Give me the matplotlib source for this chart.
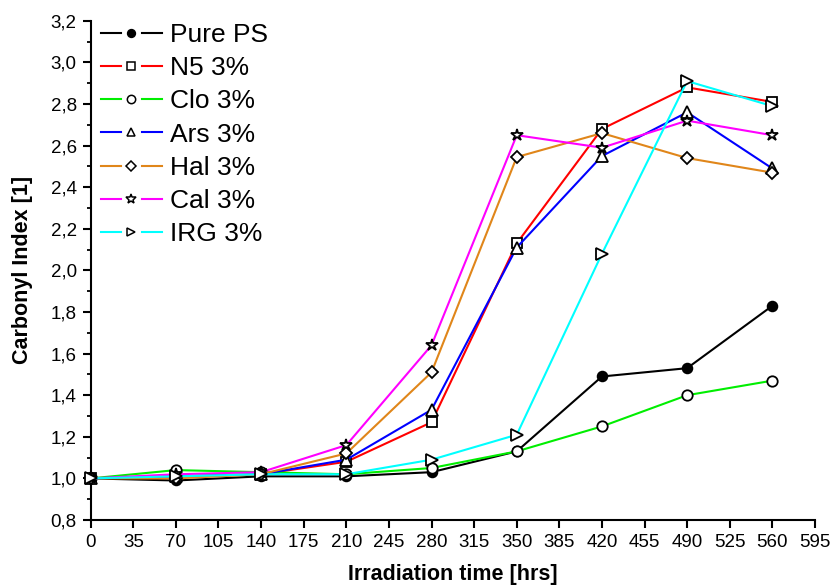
import matplotlib
matplotlib.use("Agg")
import matplotlib.pyplot as plt
from matplotlib.lines import Line2D
from matplotlib.legend_handler import HandlerBase
from matplotlib.ticker import MultipleLocator, FuncFormatter

plt.rcParams['font.family'] = ['Liberation Sans', 'DejaVu Sans']

# Irradiation time (hours)
hours = [0, 70, 140, 210, 280, 350, 420, 490, 560]

# Carbonyl index per sample
pure_ps = [1.00, 0.99, 1.01, 1.01, 1.03, 1.13, 1.49, 1.53, 1.83]
n5 = [1.00, 1.01, 1.02, 1.08, 1.27, 2.13, 2.68, 2.88, 2.81]
clo = [1.00, 1.04, 1.03, 1.02, 1.05, 1.13, 1.25, 1.40, 1.47]
ars = [1.00, 1.01, 1.02, 1.09, 1.33, 2.11, 2.55, 2.76, 2.49]
hal = [1.00, 1.00, 1.02, 1.12, 1.51, 2.545, 2.66, 2.54, 2.47]
cal = [1.00, 1.02, 1.03, 1.16, 1.64, 2.65, 2.59, 2.72, 2.65]
irg = [1.00, 1.01, 1.02, 1.02, 1.09, 1.21, 2.08, 2.91, 2.79]

labels = ["Pure PS", "N5 3%", "Clo 3%", "Ars 3%", "Hal 3%", "Cal 3%", "IRG 3%"]
series = [pure_ps, n5, clo, ars, hal, cal, irg]
colors = ["#000000", "#ff0000", "#00ee00", "#0000ff", "#e0861a", "#ff00ff", "#00ffff"]
markers = ["o", "s", "o", "^", "D", "*", ">"]

fig = plt.figure(figsize=(8.35, 5.86), dpi=100)
ax = fig.add_axes([0.1086, 0.1126, 0.976 - 0.1086, 0.9645 - 0.1126])

handles = []
for vals, lab, col, mk in zip(series, labels, colors, markers):
    filled = lab == "Pure PS"
    ms = {"o": 7.5, "s": 6.5, "^": 8, "D": 6.5, "*": 9, ">": 8}[mk]
    if filled:
        ms = 7
    h, = ax.plot(hours, vals, color=col, lw=1.5, marker=mk, markersize=ms,
                 markerfacecolor="black" if filled else "white",
                 markeredgecolor="black", markeredgewidth=1.3,
                 label=lab, clip_on=False, zorder=3)
    handles.append(h)


class GapLineHandler(HandlerBase):
    """Legend key drawn as line - marker - line with gaps around the marker."""

    def create_artists(self, legend, orig_handle, xdescent, ydescent,
                       width, height, fontsize, trans):
        y = height / 2.0 - ydescent
        x0 = -xdescent
        mid = x0 + width / 2.0
        gap = width * 0.17
        col = orig_handle.get_color()
        lw = orig_handle.get_linewidth()
        a = Line2D([x0, mid - gap], [y, y], color=col, lw=lw, transform=trans)
        b = Line2D([mid + gap, x0 + width], [y, y], color=col, lw=lw, transform=trans)
        ms = orig_handle.get_markersize() * 0.8
        m = Line2D([mid], [y], linestyle="none", marker=orig_handle.get_marker(),
                   markersize=ms, markerfacecolor=orig_handle.get_markerfacecolor(),
                   markeredgecolor="black", markeredgewidth=1.1, transform=trans)
        return [a, b, m]


ax.legend(handles=handles, handler_map={Line2D: GapLineHandler()},
          loc="upper left", bbox_to_anchor=(0.0142, 0.996), frameon=False,
          fontsize=19, handlelength=2.3, handletextpad=0.3,
          labelspacing=0.35, borderaxespad=0.0, borderpad=0.0)

ax.set_xlim(0, 595)
ax.set_ylim(0.8, 3.2)
ax.xaxis.set_major_locator(MultipleLocator(35))
ax.yaxis.set_major_locator(MultipleLocator(0.2))
ax.yaxis.set_minor_locator(MultipleLocator(0.1))
ax.yaxis.set_major_formatter(FuncFormatter(lambda v, p: f"{v:.1f}".replace(".", ",")))

for s in ("top", "right"):
    ax.spines[s].set_visible(False)
for s in ("left", "bottom"):
    ax.spines[s].set_linewidth(1.5)

ax.tick_params(axis="both", which="major", direction="out", length=6, width=1.5,
               labelsize=13.5, pad=4)
ax.tick_params(axis="y", which="minor", direction="out", length=3, width=1.3)

ax.set_xlabel("Irradiation time [hrs]", fontsize=15.5, fontweight="bold")
ax.set_ylabel("Carbonyl Index [1]", fontsize=15.5, fontweight="bold")
ax.xaxis.set_label_coords(0.5, -0.088)
ax.yaxis.set_label_coords(-0.080, 0.5)

fig.savefig("out.png", dpi=100)
